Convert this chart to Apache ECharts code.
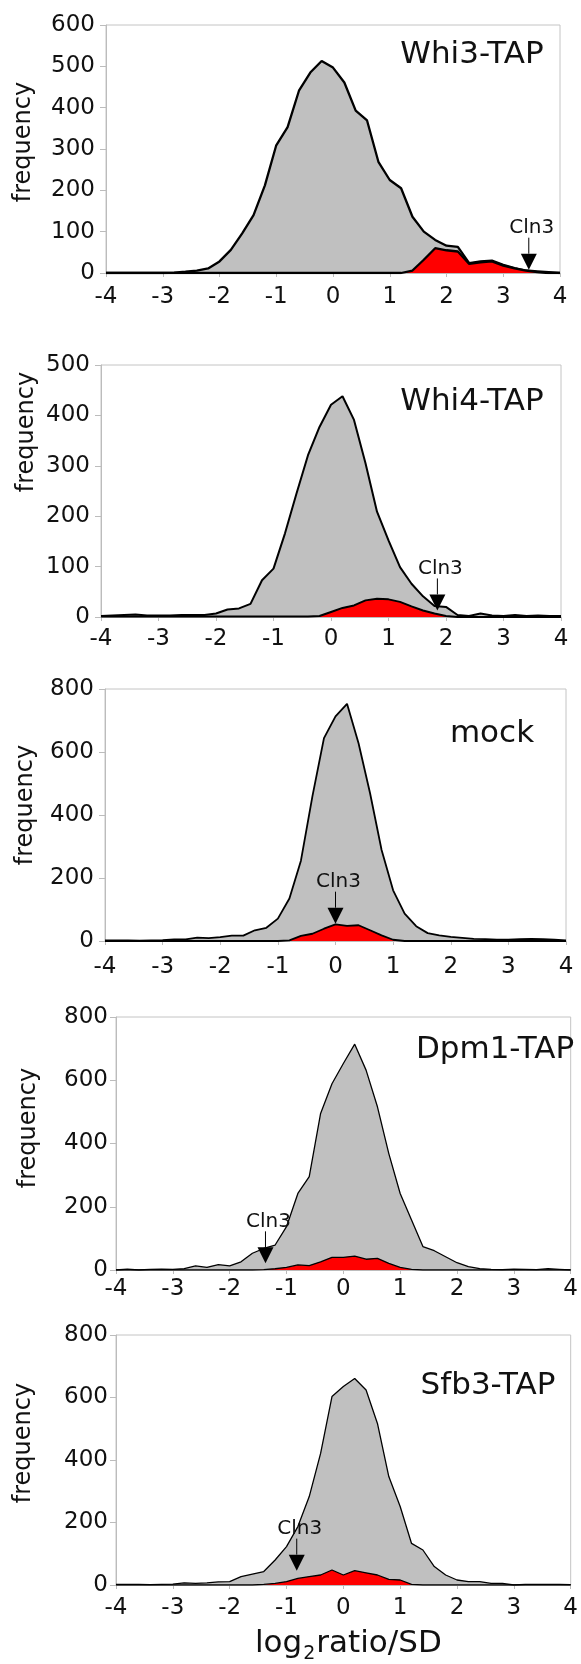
<!DOCTYPE html>
<html>
<head>
<meta charset="utf-8">
<script src="https://cdn.jsdelivr.net/npm/echarts@6/dist/echarts.min.js"></script>
<style>
html,body{margin:0;padding:0;background:#fff;}
#chart{width:581px;height:1664px;}
</style>
</head>
<body>
<div id="chart"></div>
<script>
// bin centres (log2ratio/SD)
var xs = [-4,-3.8,-3.6,-3.4,-3.2,-3,-2.8,-2.6,-2.4,-2.2,-2,-1.8,-1.6,-1.4,-1.2,-1,-0.8,-0.6,-0.4,-0.2,0,0.2,0.4,0.6,0.8,1,1.2,1.4,1.6,1.8,2,2.2,2.4,2.6,2.8,3,3.2,3.4,3.6,3.8,4];
var xTicks = [-4,-3,-2,-1,0,1,2,3,4];

var panelNames = ['Whi3-TAP','Whi4-TAP','mock','Dpm1-TAP','Sfb3-TAP'];
var yMaxes = [600,500,800,800,800];
var yIntervals = [100,100,200,200,200];

// all genes (grey)
var whi3All = [0,0,0,0,0,0,1,3,6,11,28,56,96,140,212,309,353,441,485,513,497,461,393,369,269,225,205,136,100,80,66,63,24,28,30,20,12,6,4,2,0];
var whi4All = [2,3,4,5,3,3,3,4,4,4,7,15,17,26,73,96,166,245,321,377,421,438,391,305,209,152,99,66,41,22,20,4,2,7,3,2,4,2,3,2,2];
var mockAll = [2,2,2,1,2,3,5,5,11,9,12,17,17,34,42,71,135,255,460,644,713,753,628,469,289,161,87,47,25,18,13,10,7,6,4,4,6,7,6,4,2];
var dpm1All = [0,3,0,2,3,2,4,13,8,17,13,26,53,68,79,137,242,295,495,589,653,714,632,516,368,242,158,74,61,42,23,11,4,2,1,3,2,1,4,2,0];
var sfb3All = [2,2,2,1,2,3,7,5,7,10,11,27,35,43,80,123,187,283,421,603,635,661,624,517,347,251,133,112,59,32,16,11,11,5,5,0,2,2,2,2,1];

// Cln3-associated subset (red)
var whi3Sub = [0,0,0,0,0,0,0,0,0,0,0,0,0,0,0,0,0,0,0,0,0,0,0,0,0,0,0,6,32,60,55,52,22,26,28,18,11,6,2,0,0];
var whi4Sub = [1,1,1,1,1,1,1,1,1,1,1,1,1,1,1,1,1,1,1,2,10,18,23,33,36,35,30,21,13,7,2,0,0,0,0,0,0,0,0,0,0];
var mockSub = [0,0,0,0,0,0,0,0,0,0,0,0,0,0,0,0,2,16,23,39,53,48,50,34,18,4,0,0,0,0,0,0,0,0,0,0,0,0,0,0,0];
var dpm1Sub = [0,0,0,0,0,0,0,0,0,0,0,0,0,1,4,8,16,14,26,40,40,44,34,37,21,8,2,0,0,0,0,0,0,0,0,0,0,0,0,0,0];
var sfb3Sub = [0,0,0,0,0,0,0,0,0,0,0,0,0,2,5,11,21,27,32,48,32,46,39,32,18,16,2,0,0,0,0,0,0,0,0,0,0,0,0,0,0];

// Cln3 position (x) and curve height at the arrow tip (y)
var cln3X = [3.45, 1.85, 0.0, -1.37, -0.82];
var cln3Y = [8, 13, 55, 21, 46];

var allSeries = [whi3All, whi4All, mockAll, dpm1All, sfb3All];
var subSeries = [whi3Sub, whi4Sub, mockSub, dpm1Sub, sfb3Sub];

// ---- layout (pixels) ----
var grids = [
  {left:106, top:25,   width:454, height:248},
  {left:101, top:365,  width:460, height:252},
  {left:105, top:689,  width:461, height:252},
  {left:116, top:1017, width:457, height:253},
  {left:116, top:1335, width:455, height:250}
];
var xLabelMargin = [13, 11, 15, 8, 12];
var yLabelMargin = [11, 11, 11, 8, 8];
var lineW = [2.3, 2, 1.8, 1.3, 1.3];
var titlePos = [[472,55],[472,402],[492,734],[495,1050],[488,1386]];
var freqPos = [[24,142],[27,432],[26,805],[29,1128],[24,1443]];
var FONT = 'DejaVu Sans';
var TICK_FS = 23, FREQ_FS = 24, TITLE_FS = 31, CLN_FS = 20, XT_FS = 31;

function pairs(arr){ return xs.map(function(x,i){ return [x, arr[i]]; }); }

var option = {
  animation:false,
  backgroundColor:'#fff',
  grid: grids.map(function(g){ return {left:g.left, top:g.top, width:g.width, height:g.height, show:true, borderColor:'#c4c4c4', borderWidth:1, containLabel:false}; }),
  xAxis: grids.map(function(g,i){ return {
    type:'value', gridIndex:i, min:-4, max:4, interval:1,
    axisLine:{show:true, onZero:false, lineStyle:{color:'#bcbcbc', width:1}},
    axisTick:{show:true, length:4, lineStyle:{color:'#bcbcbc'}},
    splitLine:{show:false},
    axisLabel:{color:'#111', fontFamily:FONT, fontSize:TICK_FS, margin:xLabelMargin[i],
      formatter:function(v){ return xTicks.indexOf(v) >= 0 ? String(v) : ''; }}
  }; }),
  yAxis: grids.map(function(g,i){ return {
    type:'value', gridIndex:i, min:0, max:yMaxes[i], interval:yIntervals[i],
    axisLine:{show:true, onZero:false, lineStyle:{color:'#bcbcbc', width:1}},
    axisTick:{show:true, length:6, lineStyle:{color:'#bcbcbc'}},
    splitLine:{show:false},
    axisLabel:{color:'#111', fontFamily:FONT, fontSize:TICK_FS, margin:yLabelMargin[i]}
  }; }),
  series: [],
  graphic: []
};

for (var i=0;i<5;i++){
  option.series.push({
    type:'line', xAxisIndex:i, yAxisIndex:i, data:pairs(allSeries[i]),
    symbol:'none', smooth:false, z:2,
    lineStyle:{color:'#000', width:lineW[i]},
    areaStyle:{color:'#c0c0c0', opacity:1}
  });
  option.series.push({
    type:'line', xAxisIndex:i, yAxisIndex:i, data:pairs(subSeries[i]),
    symbol:'none', smooth:false, z:3,
    lineStyle:{color:'#000', width:lineW[i]},
    areaStyle:{color:'#ff0000', opacity:1}
  });
  option.series.push({
    type:'custom', xAxisIndex:i, yAxisIndex:i, z:5, clip:false,
    data:[[cln3X[i], cln3Y[i]]],
    encode:{x:0, y:1},
    renderItem:function(params, api){
      var p = api.coord([api.value(0), api.value(1)]);
      var head = 16, half = 8, stem = 16;
      return {type:'group', children:[
        {type:'line', shape:{x1:p[0], y1:p[1]-head, x2:p[0], y2:p[1]-head-stem}, style:{stroke:'#000', lineWidth:1}},
        {type:'polygon', shape:{points:[[p[0]-half,p[1]-head],[p[0]+half,p[1]-head],[p[0],p[1]]]}, style:{fill:'#000'}},
        {type:'text', x:p[0]+3, y:p[1]-head-stem, style:{text:'Cln3', fontFamily:FONT, fontSize:CLN_FS, fill:'#111', align:'center', verticalAlign:'bottom'}}
      ]};
    }
  });
  option.graphic.push({
    type:'text', x:titlePos[i][0], y:titlePos[i][1], z:10,
    style:{text:panelNames[i], fontFamily:FONT, fontSize:TITLE_FS, fill:'#111', align:'center', verticalAlign:'middle'}
  });
  option.graphic.push({
    type:'text', x:freqPos[i][0], y:freqPos[i][1], rotation:Math.PI/2, z:10,
    style:{text:'frequency', fontFamily:FONT, fontSize:FREQ_FS, fill:'#111', align:'center', verticalAlign:'middle'}
  });
}
option.graphic.push({
  type:'text', x:255, y:1664, z:10,
  style:{
    text:'{a|log}{b|2}{a|ratio/SD}', fontFamily:FONT, fill:'#111', align:'left', verticalAlign:'bottom',
    rich:{
      a:{fontFamily:FONT, fontSize:XT_FS, fill:'#111', lineHeight:36, verticalAlign:'top'},
      b:{fontFamily:FONT, fontSize:19, fill:'#111', lineHeight:36, verticalAlign:'bottom', padding:[0,1,0,1]}
    }
  }
});

var chart = echarts.init(document.getElementById('chart'), null, {renderer:'canvas'});
chart.setOption(option);
</script>
</body>
</html>
